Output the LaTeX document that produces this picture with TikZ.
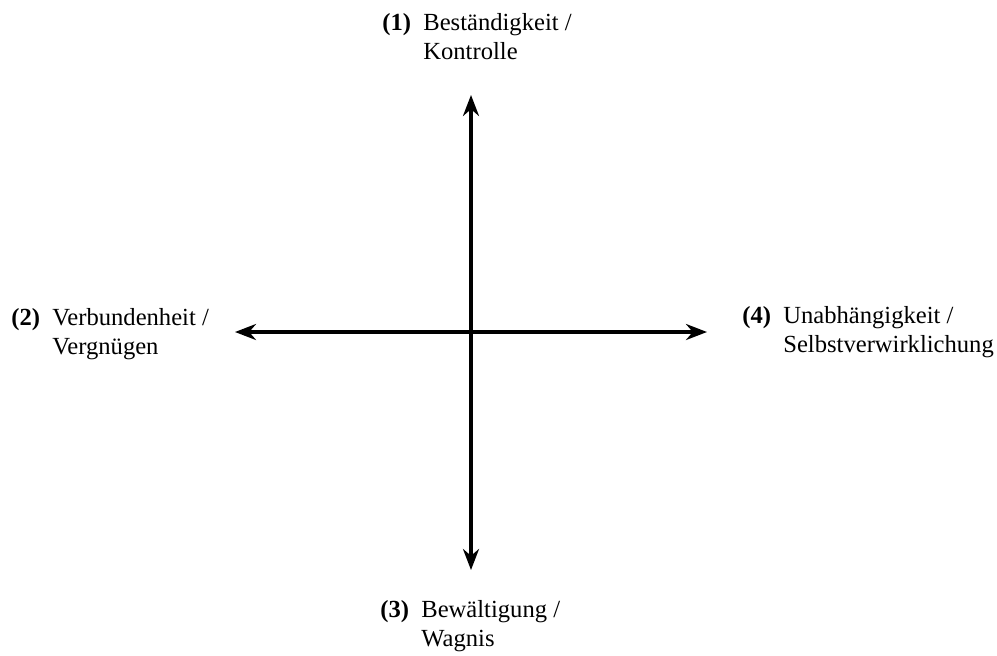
\documentclass[tikz,border=0pt]{standalone}
\usepackage{fontspec}
\setmainfont{Liberation Serif}
\usetikzlibrary{arrows.meta}
\begin{document}
\begin{tikzpicture}[x=0.5pt,y=-0.5pt,
  axis/.style={line width=1.7pt,{Stealth[length=10.5pt,width=8pt]}-{Stealth[length=10.5pt,width=8pt]}},
  lbl/.style={anchor=base west,inner sep=0pt,font=\fontsize{12.3}{14.6}\selectfont}]
\useasboundingbox (0,0) rectangle (997,655);
\coordinate (top) at (471,95);
\coordinate (bot) at (471,570);
\coordinate (left) at (235,332);
\coordinate (right) at (707,332);
\draw[axis] (bot) -- (top);
\draw[axis] (left) -- (right);
\node[lbl] (n1) at (382,30) {\textbf{(1)}\enspace\begin{tabular}[t]{@{}l@{}}Beständigkeit /\\Kontrolle\end{tabular}};
\node[lbl] (n2) at (11,325) {\textbf{(2)}\enspace\begin{tabular}[t]{@{}l@{}}Verbundenheit /\\Vergnügen\end{tabular}};
\node[lbl] (n4) at (742,323) {\textbf{(4)}\enspace\begin{tabular}[t]{@{}l@{}}Unabhängigkeit /\\Selbstverwirklichung\end{tabular}};
\node[lbl] (n3) at (380,617) {\textbf{(3)}\enspace\begin{tabular}[t]{@{}l@{}}Bewältigung /\\Wagnis\end{tabular}};
\end{tikzpicture}
\end{document}
